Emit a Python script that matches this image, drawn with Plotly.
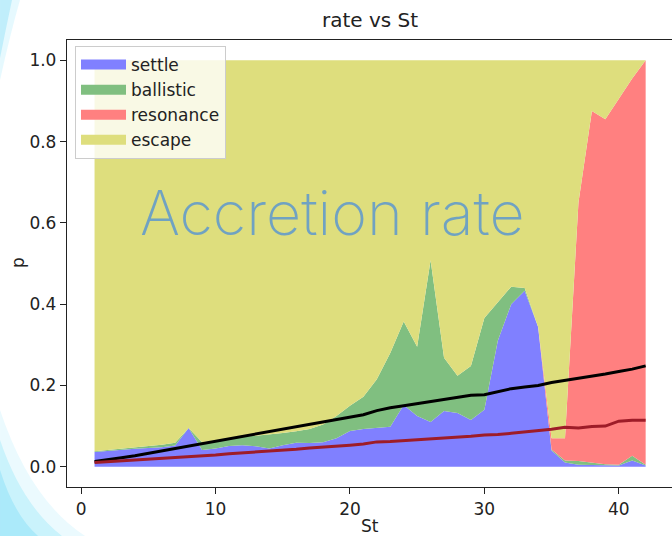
import plotly.graph_objects as go

# ---- data ----
st = list(range(1, 43))

settle = [0.036, 0.039, 0.041, 0.044, 0.046, 0.048, 0.052, 0.095, 0.041, 0.045,
          0.051, 0.053, 0.050, 0.045, 0.053, 0.059, 0.058, 0.060, 0.070, 0.088,
          0.093, 0.096, 0.098, 0.152, 0.125, 0.110, 0.137, 0.132, 0.115, 0.140,
          0.310, 0.400, 0.433, 0.344, 0.040, 0.010, 0.005, 0.004, 0.003, 0.003,
          0.015, 0.003]

ballistic = [0.002, 0.002, 0.003, 0.003, 0.004, 0.006, 0.007, 0.000, 0.019, 0.020,
             0.019, 0.021, 0.026, 0.034, 0.030, 0.028, 0.035, 0.044, 0.055, 0.062,
             0.079, 0.119, 0.182, 0.205, 0.170, 0.398, 0.131, 0.092, 0.133, 0.226,
             0.095, 0.043, 0.007, 0.000, 0.002, 0.005, 0.009, 0.006, 0.003, 0.002,
             0.012, 0.002]

resonance = [0.0] * 34 + [0.028, 0.055, 0.636, 0.865, 0.849, 0.900, 0.928, 0.995]

escape = [0.962, 0.959, 0.956, 0.953, 0.950, 0.946, 0.941, 0.905, 0.940, 0.935,
          0.930, 0.926, 0.924, 0.921, 0.917, 0.913, 0.907, 0.896, 0.875, 0.850,
          0.828, 0.785, 0.720, 0.643, 0.705, 0.492, 0.732, 0.776, 0.752, 0.634,
          0.595, 0.557, 0.560, 0.656, 0.930, 0.930, 0.350, 0.125, 0.145, 0.095,
          0.045, 0.000]

black_line = [0.013, 0.017, 0.022, 0.027, 0.033, 0.039, 0.045, 0.051, 0.057, 0.063,
              0.069, 0.075, 0.081, 0.087, 0.093, 0.098, 0.104, 0.110, 0.116, 0.122,
              0.128, 0.138, 0.145, 0.150, 0.155, 0.160, 0.165, 0.171, 0.176, 0.177,
              0.184, 0.192, 0.196, 0.200, 0.207, 0.212, 0.217, 0.222, 0.228, 0.234,
              0.240, 0.248]

red_line = [0.010, 0.012, 0.014, 0.016, 0.018, 0.020, 0.022, 0.024, 0.026, 0.029,
            0.032, 0.034, 0.036, 0.038, 0.040, 0.043, 0.046, 0.048, 0.050, 0.053,
            0.056, 0.061, 0.062, 0.064, 0.066, 0.068, 0.071, 0.073, 0.075, 0.078,
            0.079, 0.082, 0.085, 0.088, 0.092, 0.097, 0.095, 0.099, 0.100, 0.112,
            0.114, 0.114]

series_names = ["settle", "ballistic", "resonance", "escape"]
series_values = [settle, ballistic, resonance, escape]
series_colors = ["rgb(128,128,255)", "rgb(128,191,128)", "rgb(255,128,128)", "rgb(222,222,125)"]

x_ticks = [0, 10, 20, 30, 40]
y_ticks = [0.0, 0.2, 0.4, 0.6, 0.8, 1.0]

FONT = "DejaVu Sans"
INK = "#222222"

fig = go.Figure()
for name, vals, col in zip(series_names, series_values, series_colors):
    fig.add_trace(go.Scatter(
        x=st, y=vals, name=name, mode="lines", stackgroup="one", showlegend=False,
        legendgroup=name, line=dict(width=0, color=col), fillcolor=col,
    ))

fig.add_trace(go.Scatter(x=st, y=black_line, mode="lines", showlegend=False,
                         line=dict(color="black", width=3)))
fig.add_trace(go.Scatter(x=st, y=red_line, mode="lines", showlegend=False,
                         line=dict(color="rgb(158,28,40)", width=3)))

# legend patches (rectangular swatches like matplotlib's legend patches)
for name, col in zip(series_names, series_colors):
    fig.add_trace(go.Scatter(x=[None], y=[None], name=name, mode="lines", legendgroup=name,
                             line=dict(width=12, color=col)))

# ---- decoration (cyan glow at left corners of the screenshot) ----
L, R, T, B = 67, 672, 40, 487


def px(xp, yp):
    return f"{(xp - L) / (R - L):.4f},{(B - yp) / (B - T):.4f}"


shapes = []
glows = [
    (f"M {px(0,0)} L {px(20,0)} Q {px(10,35)} {px(0,80)} Z", "rgba(200,242,252,0.45)"),
    (f"M {px(0,0)} L {px(12,0)} Q {px(6,28)} {px(0,58)} Z", "rgba(160,230,248,0.55)"),
    (f"M {px(0,410)} Q {px(30,500)} {px(85,536)} L {px(0,536)} Z", "rgba(210,245,253,0.45)"),
    (f"M {px(0,440)} Q {px(22,505)} {px(62,536)} L {px(0,536)} Z", "rgba(175,236,250,0.55)"),
    (f"M {px(0,470)} Q {px(14,515)} {px(38,536)} L {px(0,536)} Z", "rgba(145,226,248,0.55)"),
]
for path, col in glows:
    shapes.append(dict(type="path", xref="paper", yref="paper", path=path,
                       fillcolor=col, line=dict(width=0), layer="above"))

fig.update_layout(
    width=672, height=536, autosize=False,
    margin=dict(l=L, r=0, t=T, b=536 - B),
    paper_bgcolor="white", plot_bgcolor="white",
    font=dict(family=FONT, size=17, color=INK),
    title=dict(text="rate vs St", x=(370 - L) / (R - L), xref="paper", xanchor="center",
               y=1 - 20 / 536, yanchor="middle",
               font=dict(family=FONT, size=20, color=INK)),
    xaxis=dict(range=[-1.05, 43.96], tickvals=x_ticks, ticks="outside", ticklen=6,
               tickwidth=1.3, tickcolor=INK, showline=True, linecolor=INK, linewidth=1.3,
               mirror=True, showgrid=False, zeroline=False, automargin=False,
               tickfont=dict(family=FONT, size=17, color=INK)),
    yaxis=dict(range=[-0.05, 1.05], tickvals=y_ticks, tickformat=".1f", ticks="outside",
               ticklen=6, tickwidth=1.3, tickcolor=INK, showline=True, linecolor=INK,
               linewidth=1.3, mirror=False, showgrid=False, zeroline=False, automargin=False,
               tickfont=dict(family=FONT, size=17, color=INK)),
    legend=dict(x=(75 - L) / (R - L), y=(B - 46) / (B - T), xanchor="left", yanchor="top",
                bgcolor="rgba(255,255,255,0.8)", bordercolor="rgb(204,204,204)", borderwidth=1,
                itemwidth=45, tracegroupgap=0,
                traceorder="normal", font=dict(family=FONT, size=17, color=INK)),
    showlegend=True,
    shapes=shapes,
    annotations=[
        dict(text="Accretion rate", xref="paper", yref="paper",
             x=(332 - L) / (R - L), y=(B - 213) / (B - T),
             xanchor="center", yanchor="middle", showarrow=False,
             font=dict(family="Inter", size=61, color="rgb(112,162,194)", weight=200)),
        dict(text="St", xref="paper", yref="paper",
             x=(370 - L) / (R - L), y=(B - 526) / (B - T),
             xanchor="center", yanchor="middle", showarrow=False,
             font=dict(family=FONT, size=17, color=INK)),
        dict(text="p", xref="paper", yref="paper", textangle=-90,
             x=(18 - L) / (R - L), y=(B - 263) / (B - T),
             xanchor="center", yanchor="middle", showarrow=False,
             font=dict(family=FONT, size=17, color=INK)),
    ],
)

fig.write_html("out.html")
